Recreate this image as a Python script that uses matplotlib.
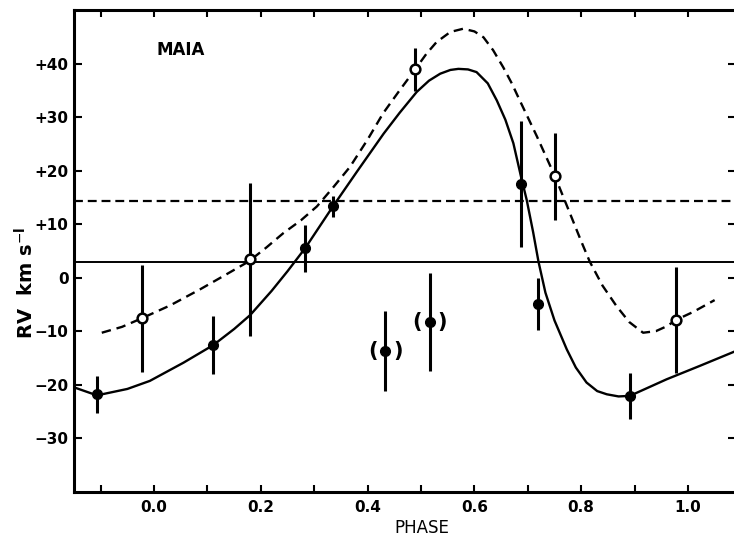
import matplotlib
matplotlib.use('Agg')
import matplotlib.pyplot as plt
import numpy as np

# filled points (solid curve)
phase_f = [-0.107, 0.111, 0.283, 0.335, 0.687, 0.720, 0.891]
rv_f = [-21.8, -12.6, 5.5, 13.3, 17.5, -4.9, -22.1]
err_f = [3.5, 5.5, 4.4, 1.9, 11.7, 4.9, 4.3]

# uncertain points shown in brackets
phase_b = [0.433, 0.516]
rv_b = [-13.7, -8.3]
err_b = [7.5, 9.2]

# open points (dashed curve)
phase_o = [-0.023, 0.180, 0.489, 0.751, 0.978]
rv_o = [-7.6, 3.4, 38.9, 18.9, -7.9]
err_o = [10.0, 14.3, 4.0, 8.2, 9.9]

# curves
curve_solid_p = [-0.150, -0.107, -0.050, -0.008, 0.055, 0.111, 0.150, 0.180, 0.220, 0.250,
                 0.283, 0.335, 0.380, 0.430, 0.460, 0.492, 0.515, 0.536, 0.555, 0.570,
                 0.588, 0.604, 0.625, 0.642, 0.658, 0.673, 0.687, 0.698, 0.710, 0.720,
                 0.733, 0.750, 0.773, 0.790, 0.810, 0.830, 0.848, 0.870, 0.891, 0.920,
                 0.960, 1.022, 1.090]
curve_solid_v = [-20.5, -22.0, -20.8, -19.3, -15.9, -12.6, -9.6, -7.0, -2.5, 1.2,
                 5.5, 13.3, 19.8, 26.9, 30.8, 34.7, 36.8, 38.1, 38.8, 39.0,
                 38.9, 38.4, 36.3, 33.1, 29.5, 25.1, 19.0, 14.5, 8.5, 3.0,
                 -2.8, -8.0, -13.4, -16.8, -19.6, -21.2, -21.8, -22.2, -22.1, -20.8,
                 -19.0, -16.5, -13.7]
curve_dash_p = [-0.098, -0.060, -0.023, 0.030, 0.086, 0.130, 0.177, 0.210, 0.242, 0.275,
                0.305, 0.335, 0.367, 0.400, 0.429, 0.460, 0.489, 0.510, 0.529, 0.555,
                0.579, 0.600, 0.617, 0.635, 0.654, 0.670, 0.685, 0.717, 0.751, 0.779,
                0.800, 0.816, 0.840, 0.866, 0.890, 0.916, 0.940, 0.960, 0.978, 1.010,
                1.050]
curve_dash_v = [-10.3, -9.2, -7.6, -5.2, -2.2, 0.3, 3.0, 5.6, 8.3, 10.7,
                13.3, 16.8, 20.7, 25.8, 30.7, 35.0, 38.9, 41.8, 44.0, 45.9,
                46.5, 46.0, 44.9, 42.5, 39.3, 36.3, 33.1, 26.4, 18.9, 12.0,
                6.8, 3.0, -1.5, -5.3, -8.3, -10.3, -10.0, -9.1, -7.9, -6.4,
                -4.2]

gamma_solid = 3.0
gamma_dash = 14.3

yticks = [-30, -20, -10, 0, 10, 20, 30, 40]
ytick_labels = ['\u221230', '\u221220', '\u221210', '0', '+10', '+20', '+30', '+40']
xticks = [0.0, 0.2, 0.4, 0.6, 0.8, 1.0]
xtick_labels = ['0.0', '0.2', '0.4', '0.6', '0.8', '1.0']

fig = plt.figure(figsize = (7.34, 5.39), dpi = 100)
ax = fig.add_axes([74/734, 1 - 491.7/539, (736 - 74)/734, (491.7 - 10)/539])

ax.axhline(gamma_solid, color = 'black', linewidth = 1.4)
ax.axhline(gamma_dash, color = 'black', linewidth = 1.6, linestyle = (0, (4, 2.2)))

ax.plot(curve_solid_p, curve_solid_v, color = 'black', linewidth = 1.7)
ax.plot(curve_dash_p, curve_dash_v, color = 'black', linewidth = 1.7, linestyle = (0, (4, 2.5)))

ax.errorbar(phase_f, rv_f, yerr = err_f, fmt = 'o', color = 'black', ms = 7,
            elinewidth = 2.2, capsize = 0, zorder = 5)
ax.errorbar(phase_b, rv_b, yerr = err_b, fmt = 'o', color = 'black', ms = 7,
            elinewidth = 2.2, capsize = 0, zorder = 5)
ax.errorbar(phase_o, rv_o, yerr = err_o, fmt = 'o', color = 'black', mfc = 'white',
            mec = 'black', mew = 1.8, ms = 7, elinewidth = 2.2, capsize = 0, zorder = 5)

for i in range(len(phase_b)):
    ax.annotate('(', (phase_b[i], rv_b[i]), xytext = (-9, 0), textcoords = 'offset points',
                ha = 'center', va = 'center', fontsize = 15, fontweight = 'bold')
    ax.annotate(')', (phase_b[i], rv_b[i]), xytext = (9, 0), textcoords = 'offset points',
                ha = 'center', va = 'center', fontsize = 15, fontweight = 'bold')

ax.text(0.049, 42.5, 'MAIA', ha = 'center', va = 'center', fontsize = 12, fontweight = 'bold')

ax.set_xlim(-0.150, 1.090)
ax.set_ylim(-40, 50)
ax.set_xticks(xticks)
ax.set_xticklabels(xtick_labels, fontsize = 11, fontweight = 'bold')
ax.set_xticks(np.arange(-0.1, 1.09, 0.1), minor = True)
ax.set_yticks(yticks)
ax.set_yticklabels(ytick_labels, fontsize = 11, fontweight = 'bold')
ax.tick_params(which = 'both', direction = 'in', top = True, right = True, length = 5,
               width = 1.5, pad = 6)
ax.tick_params(axis = 'y', length = 6, pad = 4)
for s in ['left', 'bottom', 'top', 'right']:
    ax.spines[s].set_linewidth(2.2)

fig.text(422/734, 1 - 528/539, 'PHASE', ha = 'center', va = 'center', fontsize = 12)
fig.text(26/734, 1 - 283/539, 'RV  km s$^{-\\mathbf{l}}$', ha = 'center', va = 'center',
         fontsize = 14, fontweight = 'bold', rotation = 90)

plt.savefig('out.png', dpi = 100)
